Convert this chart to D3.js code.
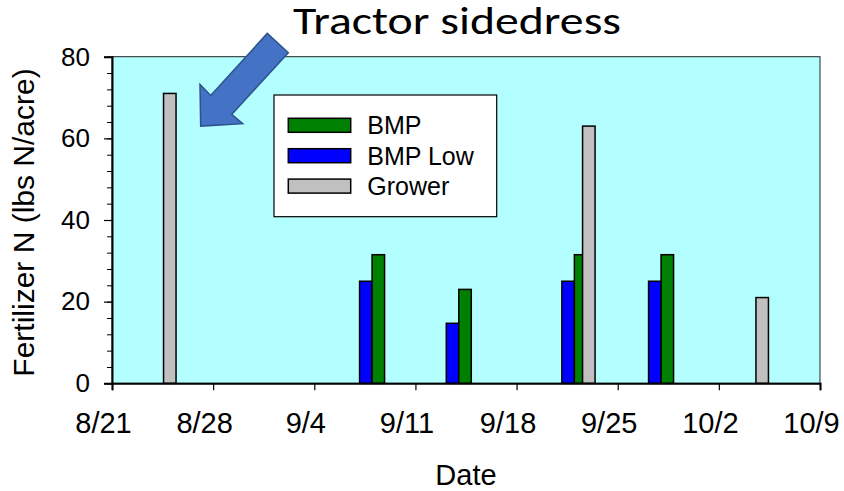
<!DOCTYPE html>
<html>
<head>
<meta charset="utf-8">
<script src="https://cdn.jsdelivr.net/npm/d3@7"></script>
<style>
    body { margin: 0; background: #fff; }
    svg { display: block; font-family: "Liberation Sans", Arial, sans-serif; }
    .title { font-family: Carlito, Calibri, Lato, sans-serif; }
</style>
</head>
<body>
<svg id="chart" width="844" height="491"></svg>
<script>
// chart values
const xTickLabels = ["8/21", "8/28", "9/4", "9/11", "9/18", "9/25", "10/2", "10/9"]
const yTickValues = [0, 20, 40, 60, 80]
const bmpDates = ["9/8", "9/14", "9/22", "9/28"]
const bmpValues = [31.5, 23, 31.5, 31.5]
const bmpLowDates = ["9/8", "9/14", "9/22", "9/28"]
const bmpLowValues = [25, 14.7, 25, 25]
const growerDates = ["8/25", "9/23", "10/5"]
const growerValues = [71, 63, 21]
const legendLabels = ["BMP", "BMP Low", "Grower"]

const COLOURS = {
    "BMP": "#008000",
    "BMP Low": "#0000ff",
    "Grower": "#c0c0c0",
}

const parseDay = (s) => d3.utcParse("%Y/%m/%d")("2019/" + s)
const dayMs = 24 * 3600 * 1000

const width = 844
const height = 491
const margin = { top: 56.7, right: 24, bottom: 107.7, left: 112 }
const innerWidth = width - margin.left - margin.right
const innerHeight = height - margin.top - margin.bottom

const x = d3.scaleUtc()
    .domain([parseDay(xTickLabels[0]), parseDay(xTickLabels[xTickLabels.length - 1])])
    .range([0, innerWidth])
const y = d3.scaleLinear().domain([0, 80]).range([innerHeight, 0])

const barDays = 0.865
const barWidth = x(new Date(x.domain()[0].getTime() + barDays * dayMs)) - x(x.domain()[0])

const svg = d3.select("#chart")
const g = svg.append("g").attr("transform", `translate(${margin.left}, ${margin.top})`)

// plot background + frame
g.append("rect")
    .attr("width", innerWidth)
    .attr("height", innerHeight)
    .attr("fill", "#b3ffff")
    .attr("stroke", "#222")
    .attr("stroke-width", 1)

// blue sits left of the date, green right of it, grey centred on it
const series = [
    { name: "BMP Low", dates: bmpLowDates, values: bmpLowValues, offset: -1 },
    { name: "BMP", dates: bmpDates, values: bmpValues, offset: 0 },
    { name: "Grower", dates: growerDates, values: growerValues, offset: -0.5 },
]

for (const s of series) {
    g.append("g")
        .selectAll("rect")
        .data(s.dates.map((d, i) => ({ date: parseDay(d), value: s.values[i] })))
        .join("rect")
        .attr("x", (d) => x(d.date) + s.offset * barWidth)
        .attr("y", (d) => y(d.value))
        .attr("width", barWidth)
        .attr("height", (d) => y(0) - y(d.value))
        .attr("fill", COLOURS[s.name])
        .attr("stroke", "#000")
        .attr("stroke-width", 1.5)
}

// y axis: minor ticks every 4, major every 20
const yMinor = d3.range(0, 81, 4)
g.append("g")
    .call(d3.axisLeft(y).tickValues(yMinor).tickSize(5).tickFormat(""))
    .call((a) => a.select(".domain").remove())
    .selectAll("line").attr("stroke", "#000")
const yAxis = g.append("g")
    .call(d3.axisLeft(y).tickValues(yTickValues).tickSize(8).tickPadding(14))
yAxis.attr("font-family", null).attr("font-size", 26)
yAxis.select(".domain").attr("stroke", "#000").attr("stroke-width", 2)
yAxis.selectAll("line").attr("stroke", "#000").attr("stroke-width", 1.2)
yAxis.selectAll("text").attr("fill", "#000")

// x axis
const xAxis = g.append("g")
    .attr("transform", `translate(0, ${innerHeight})`)
    .call(d3.axisBottom(x)
        .tickValues(xTickLabels.map(parseDay))
        .tickSize(7)
        .tickPadding(22)
        .tickFormat((d, i) => xTickLabels[i]))
xAxis.attr("font-family", null).attr("font-size", 29)
xAxis.select(".domain").attr("stroke", "#000").attr("stroke-width", 2)
xAxis.selectAll("line").attr("stroke", "#000").attr("stroke-width", 1.2)
xAxis.selectAll("text").attr("fill", "#000").attr("dx", -9)

// axis labels
g.append("text")
    .attr("x", innerWidth / 2)
    .attr("y", innerHeight + 102)
    .attr("text-anchor", "middle")
    .attr("font-size", 29)
    .text("Date")

g.append("text")
    .attr("transform", "rotate(-90)")
    .attr("x", -(222.5 - margin.top))
    .attr("y", -margin.left + 33.5)
    .attr("text-anchor", "middle")
    .attr("font-size", 30)
    .text("Fertilizer N (lbs N/acre)")

// legend
const legend = svg.append("g").attr("transform", "translate(274, 95)")
legend.append("rect")
    .attr("width", 222.7)
    .attr("height", 121.7)
    .attr("fill", "#fff")
    .attr("stroke", "#000")
    .attr("stroke-width", 1.2)
legendLabels.forEach((label, i) => {
    const row = legend.append("g").attr("transform", `translate(0, ${23.3 + i * 30.4})`)
    row.append("rect")
        .attr("x", 14.3)
        .attr("width", 62.4)
        .attr("height", 14)
        .attr("fill", COLOURS[label])
        .attr("stroke", "#000")
        .attr("stroke-width", 1.5)
    row.append("text")
        .attr("x", 93.3)
        .attr("y", 16)
        .attr("font-size", 25)
        .text(label)
})

// annotation arrow pointing at the first grower application
const arrowTip = [x(parseDay("8/27")) + margin.left + 2, y(63) + margin.top]
const arrowShape = [[0, 0], [-0.7, -41.7], [10, -30.7], [66.6, -92.7], [87.6, -73.4], [31, -11.7], [42, -2.4]]
svg.append("polygon")
    .attr("points", arrowShape.map((p) => [arrowTip[0] + p[0], arrowTip[1] + p[1]].join(",")).join(" "))
    .attr("fill", "#4472c4")
    .attr("stroke", "#2f528f")
    .attr("stroke-width", 1.5)

svg.append("text")
    .attr("class", "title")
    .attr("x", 293)
    .attr("y", 34)
    .attr("font-size", 38)
    .attr("font-weight", 300)
    .attr("textLength", 328)
    .attr("lengthAdjust", "spacingAndGlyphs")
    .text("Tractor sidedress")
</script>
</body>
</html>
